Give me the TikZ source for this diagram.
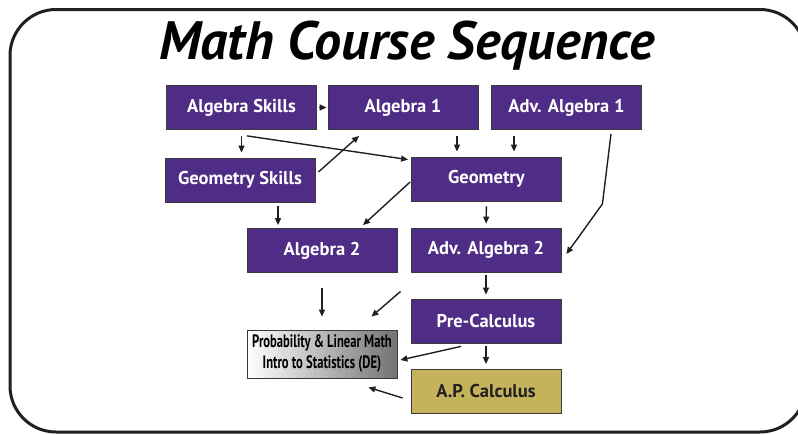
\documentclass[tikz,border=0pt]{standalone}
\usepackage{fontspec}
\setmainfont{PT Sans}
\newfontfamily\narrowfont[FakeStretch=0.7]{PT Sans}
\usetikzlibrary{arrows.meta,calc}
\definecolor{MathPurple}{HTML}{4F2C86}
\definecolor{MathGold}{HTML}{C5B35B}
\definecolor{MathInk}{HTML}{231F20}
\definecolor{MathEdge}{HTML}{3C3A3C}

\begin{document}
\begin{tikzpicture}[x=1pt,y=-1pt,
    course/.style={
      draw=MathEdge,
      line width=0.8pt,
      fill=MathPurple,
      text=white,
      minimum width=150pt,
      minimum height=44pt,
      inner sep=0pt,
      font=\fontsize{18.5}{22}\selectfont\bfseries
    },
    capstone/.style={course, fill=MathGold, text=MathInk},
    elective/.style={
      course,
      left color=white,
      middle color=black!6,
      right color=black!55,
      text=black,
      align=center,
      font=\narrowfont\fontsize{18}{21}\selectfont\bfseries
    },
    flow/.style={
      -{Triangle[length=7pt,width=6pt]},
      line width=1.4pt,
      draw=MathInk
    }]

    \useasboundingbox (0,0) rectangle (798,434);

    % Outer frame, running off the right edge
    \draw[line width=3pt, draw=MathInk, rounded corners=46pt] (10,9.5) rectangle (806,432);

    % Title
    \node[anchor=base, font=\fontsize{54}{60}\selectfont\bfseries\itshape] (title) at (407,59) {Math Course Sequence};

    % Course boxes (pixel grid of the reference)
    \node[course] (as)   at (241.5,107.5) {Algebra Skills};
    \node[course] (a1)   at (403,107.5)   {Algebra 1};
    \node[course] (aa1)  at (566.5,107.5) {Adv. Algebra 1};
    \node[course] (gs)   at (240,180)     {Geometry Skills};
    \node[course] (geo)  at (486.5,179)   {Geometry};
    \node[course] (a2)   at (322,250.5)   {Algebra 2};
    \node[course] (aa2)  at (486,250)     {Adv. Algebra 2};
    \node[course] (pc)   at (486,321)     {Pre-Calculus};
    \node[capstone] (ap) at (486,391.5)   {A.P. Calculus};
    \node[elective, minimum height=48pt] (prob) at (322,354)
      {Probability \& Linear Math\\Intro to Statistics (DE)};

    % Start points of the off-centre links
    \coordinate (a1out)  at ($(a1.south)+(54,0)$);
    \coordinate (aa1out) at ($(aa1.south)+(-52.5,0)$);
    \coordinate (gsout)  at ($(gs.south)+(38,0)$);
    \coordinate (bend)   at ($(aa2.east)+(41,-46)$);

    % Short straight links
    \draw[flow, shorten <=2pt, shorten >=1pt] (as.east) -- (a1.west);
    \draw[flow, shorten <=6pt, shorten >=5pt] (as.south) -- (as.south |- gs.north);
    \draw[flow, shorten <=6pt, shorten >=5pt] (a1out) -- (a1out |- geo.north);
    \draw[flow, shorten <=6pt, shorten >=5pt] (aa1out) -- (aa1out |- geo.north);
    \draw[flow, shorten <=4pt, shorten >=3pt] (gsout) -- (gsout |- a2.north);
    \draw[flow, shorten <=5pt, shorten >=4pt] (geo.south) -- (aa2.north);
    \draw[flow, shorten <=15pt, shorten >=13pt] (a2.south) -- (prob.north);
    \draw[flow, shorten <=3pt, shorten >=4pt] (aa2.south) -- (pc.north);
    \draw[flow, shorten <=3pt, shorten >=5pt] (pc.south) -- (ap.north);

    % Diagonal links
    \draw[flow] ($(as.south)+(5.5,6)$) -- ($(geo.north west)+(-3,3)$);
    \draw[flow] ($(gs.east)+(3,-8)$) -- ($(a1.south)+(-44,6)$);
    \draw[flow] ($(geo.west)+(-1,3)$) -- ($(a2.north)+(41,-3)$);
    \draw[flow] ($(aa1.south)+(44.5,4)$) -- (bend) -- ($(aa2.east)+(5,4)$);
    \draw[flow] ($(aa2.south west)+(-10,19)$) -- ($(prob.north east)+(-26,-13)$);
    \draw[flow] ($(pc.south)+(-25,3)$) -- ($(prob.east)+(3,6)$);
    \draw[flow] ($(ap.west)+(-8,6.5)$) -- ($(prob.south east)+(-29,9)$);
  \end{tikzpicture}
\end{document}
